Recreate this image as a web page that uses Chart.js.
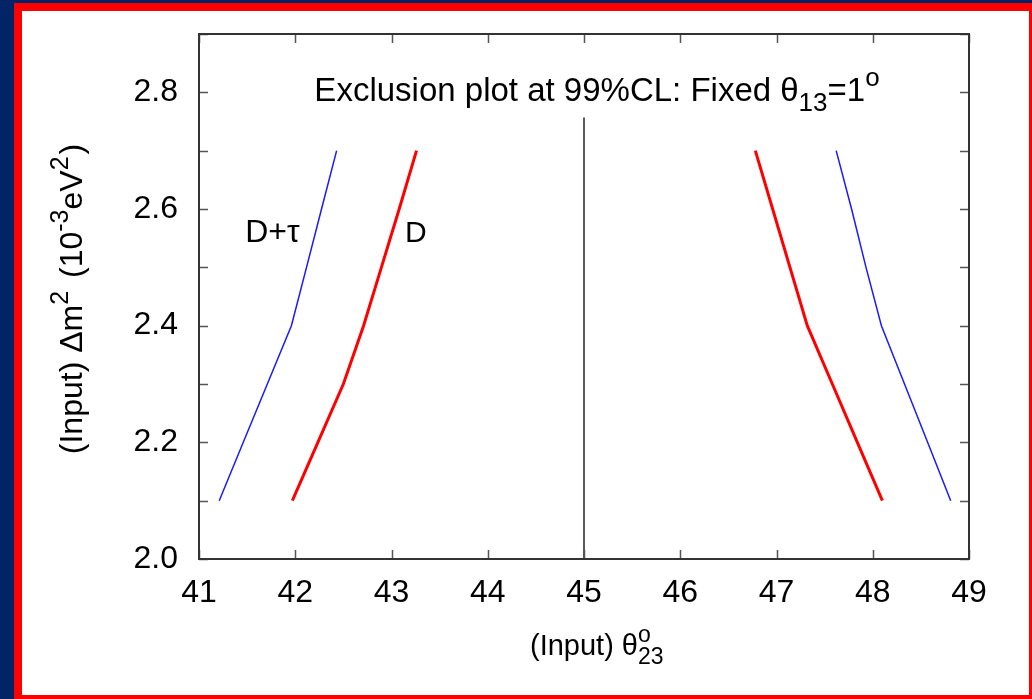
<!DOCTYPE html>
<html>
<head>
<meta charset="utf-8">
<script src="https://cdn.jsdelivr.net/npm/chart.js@4"></script>
<style>
  html, body { margin: 0; padding: 0; width: 1032px; height: 699px; overflow: hidden; background: #022366; }
  #frame { position: absolute; left: 14px; top: 3px; width: 1007px; height: 684px; border: 8px solid #ff0000; background: #ffffff; }
  #wrap { position: absolute; left: 0; top: 0; width: 1032px; height: 699px; }
</style>
</head>
<body>
<div id="frame"></div>
<div id="wrap"><canvas id="chart" width="1032" height="699"></canvas></div>
<script>
// delta m^2 levels (10^-3 eV^2) where the exclusion edges were computed
const dmLevels = [2.1, 2.2, 2.3, 2.4, 2.5, 2.6, 2.7];
// theta23 edges, D only (red)
const dLeft = [41.97, 42.235, 42.50, 42.71, 42.895, 43.08, 43.26];
const dRight = [48.10, 47.84, 47.58, 47.32, 47.14, 46.96, 46.78];
// theta23 edges, D + tau (blue)
const dtauLeft = [41.21, 41.46, 41.71, 41.96, 42.117, 42.273, 42.43];
const dtauRight = [48.81, 48.57, 48.33, 48.09, 47.93, 47.78, 47.62];
// maximal mixing marker
const maxMixX = [45, 45];
const maxMixY = [2.0, 2.757];

const xTicks = [41, 42, 43, 44, 45, 46, 47, 48, 49];
const yTickLabels = ['2.0', '2.2', '2.4', '2.6', '2.8'];

const FONT = '"Liberation Sans", Arial, Helvetica, sans-serif';

function pts(xs, ys) {
    return xs.map((v, i) => ({ x: v, y: ys[i] }));
}

function curve(xs, ys, color, width) {
    return {
        data: pts(xs, ys),
        showLine: true,
        borderColor: color,
        borderWidth: width,
        pointRadius: 0,
        tension: 0,
        fill: false,
    };
}

// text pieces: n = normal, sup / sub = raised / lowered, stack = sup over sub
const SMALL = 0.78;

function richWidth(ctx, parts, size) {
    const small = Math.round(size * SMALL);
    let w = 0;
    parts.forEach(p => {
        if (p.k === 'n') {
            ctx.font = size + 'px ' + FONT;
            w += ctx.measureText(p.t).width;
        } else if (p.k === 'stack') {
            ctx.font = small + 'px ' + FONT;
            w += Math.max(ctx.measureText(p.up).width, ctx.measureText(p.down).width);
        } else {
            ctx.font = small + 'px ' + FONT;
            w += ctx.measureText(p.t).width + (p.gap || 0);
        }
    });
    return w;
}

function drawRich(ctx, parts, x, y, size) {
    const small = Math.round(size * SMALL);
    ctx.textBaseline = 'alphabetic';
    ctx.textAlign = 'left';
    parts.forEach(p => {
        if (p.k === 'n') {
            ctx.font = size + 'px ' + FONT;
            ctx.fillText(p.t, x, y);
            x += ctx.measureText(p.t).width;
        } else if (p.k === 'sup') {
            ctx.font = small + 'px ' + FONT;
            ctx.fillText(p.t, x, y - size * 0.45);
            x += ctx.measureText(p.t).width + (p.gap || 0);
        } else if (p.k === 'sub') {
            ctx.font = small + 'px ' + FONT;
            ctx.fillText(p.t, x, y + size * 0.3);
            x += ctx.measureText(p.t).width + (p.gap || 0);
        } else {
            ctx.font = small + 'px ' + FONT;
            ctx.fillText(p.up, x, y - size * 0.45);
            ctx.fillText(p.down, x, y + size * 0.3);
            x += Math.max(ctx.measureText(p.up).width, ctx.measureText(p.down).width);
        }
    });
}

const frameTicks = {
    id: 'frameTicks',
    afterDraw(chart) {
        const { ctx, chartArea: a, scales: { x, y } } = chart;
        ctx.save();
        ctx.strokeStyle = '#555555';
        ctx.lineWidth = 1.5;
        ctx.beginPath();
        x.ticks.forEach(t => {
            const px = Math.round(x.getPixelForValue(t.value)) + 0.5;
            ctx.moveTo(px, a.bottom); ctx.lineTo(px, a.bottom - 9);
            ctx.moveTo(px, a.top); ctx.lineTo(px, a.top + 9);
        });
        y.ticks.forEach(t => {
            const py = Math.round(y.getPixelForValue(t.value)) + 0.5;
            ctx.moveTo(a.left, py); ctx.lineTo(a.left + 9, py);
            ctx.moveTo(a.right, py); ctx.lineTo(a.right - 9, py);
        });
        ctx.stroke();

        ctx.strokeStyle = '#333333';
        ctx.lineWidth = 2;
        ctx.strokeRect(a.left, a.top, a.right - a.left, a.bottom - a.top);

        ctx.fillStyle = '#000000';

        // title inside the plot
        const title = [
            { k: 'n', t: 'Exclusion plot at 99%CL: Fixed θ' },
            { k: 'sub', t: '13' },
            { k: 'n', t: '=1' },
            { k: 'sup', t: 'o' },
        ];
        const tw = richWidth(ctx, title, 33);
        drawRich(ctx, title, 597 - tw / 2, 101, 33);

        // curve labels
        drawRich(ctx, [{ k: 'n', t: 'D+τ' }], x.getPixelForValue(41.48), y.getPixelForValue(2.543), 32);
        drawRich(ctx, [{ k: 'n', t: 'D' }], x.getPixelForValue(43.14), y.getPixelForValue(2.543), 30);

        // x axis title
        const xt = [
            { k: 'n', t: '(Input) θ' },
            { k: 'stack', up: 'o', down: '23' },
        ];
        drawRich(ctx, xt, 530, 655, 29);

        // y axis title
        const yt = [
            { k: 'n', t: '(Input) Δm' },
            { k: 'sup', t: '2', gap: 4 },
            { k: 'n', t: ' (10' },
            { k: 'sup', t: '-3' },
            { k: 'n', t: 'eV' },
            { k: 'sup', t: '2', gap: 2 },
            { k: 'n', t: ')' },
        ];
        const yw = richWidth(ctx, yt, 32);
        ctx.save();
        ctx.translate(82, 299);
        ctx.rotate(-Math.PI / 2);
        drawRich(ctx, yt, -yw / 2, 0, 32);
        ctx.restore();

        ctx.restore();
    }
};

const ctx = document.getElementById('chart').getContext('2d');
new Chart(ctx, {
    type: 'scatter',
    data: {
        datasets: [
            curve(maxMixX, maxMixY, '#222222', 1.5),
            curve(dtauLeft, dmLevels, '#1a1aff', 1.5),
            curve(dtauRight, dmLevels, '#1a1aff', 1.5),
            curve(dLeft, dmLevels, '#ff0000', 3),
            curve(dRight, dmLevels, '#ff0000', 3),
        ],
    },
    options: {
        responsive: false,
        animation: false,
        devicePixelRatio: 1,
        layout: { padding: { top: 34, right: 63, bottom: 0, left: 0 } },
        plugins: {
            legend: { display: false },
            tooltip: { enabled: false },
        },
        scales: {
            x: {
                type: 'linear',
                min: xTicks[0],
                max: xTicks[xTicks.length - 1],
                afterBuildTicks: scale => {
                    scale.ticks = xTicks.map(v => ({ value: v }));
                },
                afterFit: scale => {
                    scale.height = 140;
                    scale.paddingLeft = 0;
                    scale.paddingRight = 0;
                },
                grid: { display: false, drawTicks: false },
                border: { display: false },
                ticks: {
                    padding: 15,
                    color: '#000000',
                    font: { family: FONT, size: 32 },
                    callback: v => String(v),
                },
            },
            y: {
                type: 'linear',
                min: 2.0,
                max: 2.9,
                afterBuildTicks: scale => {
                    const t = [];
                    for (let i = 0; i <= 9; i++) t.push({ value: 2.0 + i * 0.1 });
                    scale.ticks = t;
                },
                afterFit: scale => {
                    scale.width = 199;
                    scale.paddingTop = 0;
                    scale.paddingBottom = 0;
                },
                grid: { display: false, drawTicks: false },
                border: { display: false },
                ticks: {
                    padding: 21,
                    color: '#000000',
                    font: { family: FONT, size: 32 },
                    callback: (v, i) => (i % 2 === 0 ? yTickLabels[i / 2] : ''),
                },
            },
        },
    },
    plugins: [frameTicks],
});
</script>
</body>
</html>
